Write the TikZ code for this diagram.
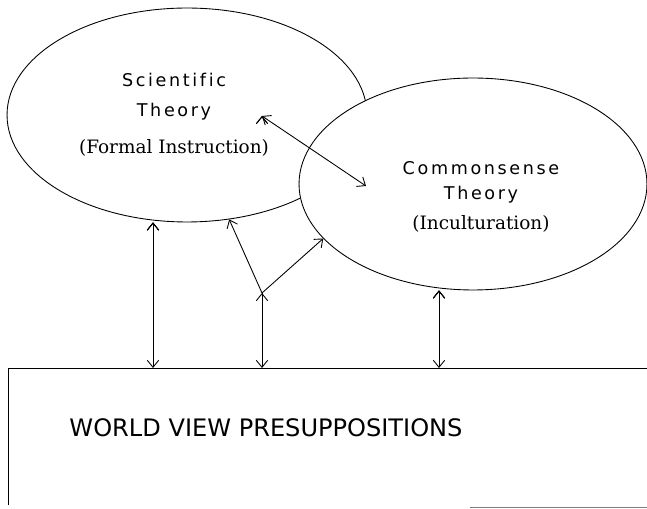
\documentclass[tikz,border=0pt]{standalone}
\usepackage{fontspec}
\newfontfamily\plotfont{DejaVu Sans}[LetterSpace=15,Ligatures=NoCommon]
\newfontfamily\plainsans{DejaVu Sans}
\newfontfamily\plotserif{DejaVu Serif}
\usetikzlibrary{shapes.geometric,arrows.meta}
\begin{document}
\begin{tikzpicture}[x=0.02cm,y=-0.02cm,line width=0.5pt,
  >={Straight Barb[length=4pt,width=6.5pt]},
  theory/.style={draw,shape=ellipse,inner sep=0pt},
  theorytext/.style={align=center,font=\plotfont\fontsize{10}{#1}\selectfont}]
  \useasboundingbox (0,0) rectangle (647,509);
  \node[theory,minimum width=7.2cm,minimum height=4.28cm] (scientific) at (187,115) {};
  \node[theory,fill=white,minimum width=6.96cm,minimum height=4.24cm] (commonsense) at (473,184) {};
  \node[theorytext=17] (scitext) at (174,115) {Scientific\\Theory\\[4pt]{\plotserif\fontsize{10.5}{12}\selectfont (Formal Instruction)}};
  \node[theorytext=14] (comtext) at (481,197) {Commonsense\\Theory\\[3pt]{\plotserif\fontsize{10.5}{12}\selectfont (Inculturation)}};
  \coordinate (boxnw) at (8,368);
  \coordinate (boxne) at (647,368);
  \coordinate (boxsw) at (8,505);
  \coordinate (boxs) at (470,507);
  \coordinate (boxse) at (647,507);
  \draw (boxsw) -- (boxnw) -- (boxne);
  \draw[gray] (boxs) -- (boxse);
  \node[font=\plainsans\fontsize{13.7}{16}\selectfont] (worldview) at (266,428) {WORLD VIEW PRESUPPOSITIONS};
  \coordinate (foot1) at (153,368);
  \coordinate (foot2) at (262,368);
  \coordinate (foot3) at (439,368);
  \coordinate (fork) at (262,293);
  \coordinate (inner1) at (262,116);
  \coordinate (inner2) at (366,186);
  \draw[<->] (inner1) edge (inner2);
  \draw[<->] (scientific.south -| foot1) edge (foot1);
  \draw[<->] (commonsense.south -| foot3) edge (foot3);
  \draw[->] (fork) edge (scientific.292) edge (commonsense.200) edge (foot2);
\end{tikzpicture}
\end{document}
